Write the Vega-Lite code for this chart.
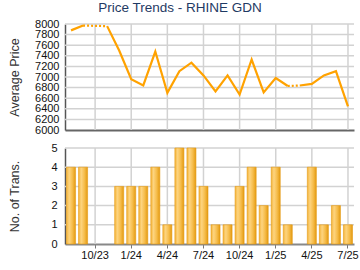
{
  "$schema": "https://vega.github.io/schema/vega-lite/v6.json",
  "autosize": {"type": "pad"},
  "padding": {"left": 7, "top": 0, "right": 0, "bottom": 0},
  "background": "white",
  "bounds": "flush",
  "spacing": 18,
  "title": {"text": "Price Trends - RHINE GDN", "color": "#1f3a64", "fontSize": 13.5, "fontWeight": "normal", "font": "Liberation Sans", "anchor": "middle", "dx": -3, "offset": 4},
  "config": {
    "view": {"stroke": null},
    "font": "Liberation Sans",
    "axis": {"labelFont": "Liberation Sans", "titleFont": "Liberation Sans", "labelColor": "#111", "titleColor": "#333", "labelFontSize": 11, "titleFontSize": 12.5, "titleFontWeight": "normal", "domainColor": "#555", "tickColor": "#999", "grid": false}
  },
  "datasets": {
    "trans": [
      {"month": "8/23", "count": 4}, {"month": "9/23", "count": 4}, {"month": "10/23", "count": 0}, {"month": "11/23", "count": 0},
      {"month": "12/23", "count": 3}, {"month": "1/24", "count": 3}, {"month": "2/24", "count": 3}, {"month": "3/24", "count": 4},
      {"month": "4/24", "count": 1}, {"month": "5/24", "count": 5}, {"month": "6/24", "count": 5}, {"month": "7/24", "count": 3},
      {"month": "8/24", "count": 1}, {"month": "9/24", "count": 1}, {"month": "10/24", "count": 3}, {"month": "11/24", "count": 4},
      {"month": "12/24", "count": 2}, {"month": "1/25", "count": 4}, {"month": "2/25", "count": 1}, {"month": "3/25", "count": 0},
      {"month": "4/25", "count": 4}, {"month": "5/25", "count": 1}, {"month": "6/25", "count": 2}, {"month": "7/25", "count": 1}
    ],
    "price": [
      {"month": "8/23", "price": 7880, "segment": 1}, {"month": "9/23", "price": 7970, "segment": 1},
      {"month": "11/23", "price": 7960, "segment": 2}, {"month": "12/23", "price": 7500, "segment": 2},
      {"month": "1/24", "price": 6960, "segment": 2}, {"month": "2/24", "price": 6840, "segment": 2},
      {"month": "3/24", "price": 7480, "segment": 2}, {"month": "4/24", "price": 6700, "segment": 2},
      {"month": "5/24", "price": 7110, "segment": 2}, {"month": "6/24", "price": 7270, "segment": 2},
      {"month": "7/24", "price": 7030, "segment": 2}, {"month": "8/24", "price": 6730, "segment": 2},
      {"month": "9/24", "price": 7030, "segment": 2}, {"month": "10/24", "price": 6670, "segment": 2},
      {"month": "11/24", "price": 7330, "segment": 2}, {"month": "12/24", "price": 6710, "segment": 2},
      {"month": "1/25", "price": 6980, "segment": 2}, {"month": "2/25", "price": 6830, "segment": 2},
      {"month": "3/25", "price": 6840, "segment": 3}, {"month": "4/25", "price": 6870, "segment": 3},
      {"month": "5/25", "price": 7030, "segment": 3}, {"month": "6/25", "price": 7110, "segment": 3},
      {"month": "7/25", "price": 6445, "segment": 3}
    ],
    "gap": [
      {"month": "9/23", "price": 7970, "gap": 1}, {"month": "10/23", "price": 7965, "gap": 1}, {"month": "11/23", "price": 7960, "gap": 1},
      {"month": "2/25", "price": 6830, "gap": 2}, {"month": "3/25", "price": 6840, "gap": 2}
    ],
    "quarters": [
      {"month": "10/23"}, {"month": "1/24"}, {"month": "4/24"}, {"month": "7/24"}, {"month": "10/24"}, {"month": "1/25"}, {"month": "4/25"}, {"month": "7/25"}
    ],
    "priceGrid": [
      {"price": 6200}, {"price": 6400}, {"price": 6600}, {"price": 6800}, {"price": 7000}, {"price": 7200}, {"price": 7400}, {"price": 7600}, {"price": 7800}, {"price": 8000}
    ],
    "countGrid": [
      {"count": 1}, {"count": 2}, {"count": 3}, {"count": 4}, {"count": 5}
    ]
  },
  "vconcat": [
    {
      "width": 289,
      "height": 106,
      "encoding": {
        "x": {"field": "month", "type": "ordinal", "sort": null,
          "scale": {"type": "point", "padding": 0.5, "domain": ["8/23","9/23","10/23","11/23","12/23","1/24","2/24","3/24","4/24","5/24","6/24","7/24","8/24","9/24","10/24","11/24","12/24","1/25","2/25","3/25","4/25","5/25","6/25","7/25"]},
          "axis": {"title": null, "labels": false, "ticks": false, "values": ["10/23","1/24","4/24","7/24","10/24","1/25","4/25","7/25"], "domainColor": "#666", "domainWidth": 2}}
      },
      "layer": [
        {
          "data": {"name": "quarters"},
          "mark": {"type": "rule", "color": "#d2d2d2", "strokeWidth": 1.5},
          "encoding": {}
        },
        {
          "data": {"name": "priceGrid"},
          "mark": {"type": "rule", "color": "#d2d2d2", "strokeWidth": 1.5},
          "encoding": {"x": null, "y": {"field": "price", "type": "quantitative", "title": "Average Price"}}
        },
        {
          "data": {"name": "price"},
          "mark": {"type": "line", "color": "#ffa200", "strokeWidth": 2.2},
          "encoding": {
            "y": {"field": "price", "type": "quantitative", "scale": {"domain": [6000, 8000], "nice": false, "zero": false},
              "axis": {"title": "Average Price", "values": [6000,6200,6400,6600,6800,7000,7200,7400,7600,7800,8000], "tickCount": 11, "labelOverlap": false, "format": "d", "ticks": false, "labelPadding": 6, "labelFontSize": 11, "titleX": -51, "titleBaseline": "middle", "domainColor": "#555", "domainWidth": 1.5}},
            "detail": {"field": "segment"}
          }
        },
        {
          "data": {"name": "gap"},
          "mark": {"type": "line", "color": "#ffa200", "strokeWidth": 2.2, "strokeDash": [2, 2]},
          "encoding": {
            "y": {"field": "price", "type": "quantitative", "title": "Average Price"},
            "detail": {"field": "gap"}
          }
        }
      ]
    },
    {
      "width": 289,
      "height": 96,
      "encoding": {
        "x": {"field": "month", "type": "ordinal", "sort": null,
          "scale": {"type": "band", "paddingInner": 0.25, "paddingOuter": 0.125, "domain": ["8/23","9/23","10/23","11/23","12/23","1/24","2/24","3/24","4/24","5/24","6/24","7/24","8/24","9/24","10/24","11/24","12/24","1/25","2/25","3/25","4/25","5/25","6/25","7/25"]},
          "axis": {"title": null, "labelAngle": 0, "values": ["10/23","1/24","4/24","7/24","10/24","1/25","4/25","7/25"], "tickSize": 4, "labelPadding": 1, "domainColor": "#888", "domainWidth": 2, "tickColor": "#777"}}
      },
      "layer": [
        {
          "data": {"name": "quarters"},
          "mark": {"type": "rule", "color": "#d2d2d2", "strokeWidth": 1.5},
          "encoding": {}
        },
        {
          "data": {"name": "countGrid"},
          "mark": {"type": "rule", "color": "#d2d2d2", "strokeWidth": 1.5},
          "encoding": {"x": null, "y": {"field": "count", "type": "quantitative", "title": "No. of Trans."}}
        },
        {
          "data": {"name": "trans"},
          "transform": [{"filter": "datum.count > 0"}],
          "mark": {"type": "bar", "stroke": "#e59a12", "strokeWidth": 0.6,
            "color": {"gradient": "linear", "x1": 0, "x2": 1, "y1": 0, "y2": 0,
              "stops": [{"offset": 0, "color": "#f4b43a"}, {"offset": 0.3, "color": "#fdd47f"}, {"offset": 0.65, "color": "#f6bd4c"}, {"offset": 1, "color": "#e39a10"}]}},
          "encoding": {
            "y": {"field": "count", "type": "quantitative", "scale": {"domain": [0, 5], "nice": false},
              "axis": {"title": "No. of Trans.", "values": [0,1,2,3,4,5], "tickCount": 6, "ticks": false, "labelPadding": 8, "titleX": -51, "titleBaseline": "middle", "domainColor": "#555", "domainWidth": 1.5}}
          }
        }
      ]
    }
  ]
}
